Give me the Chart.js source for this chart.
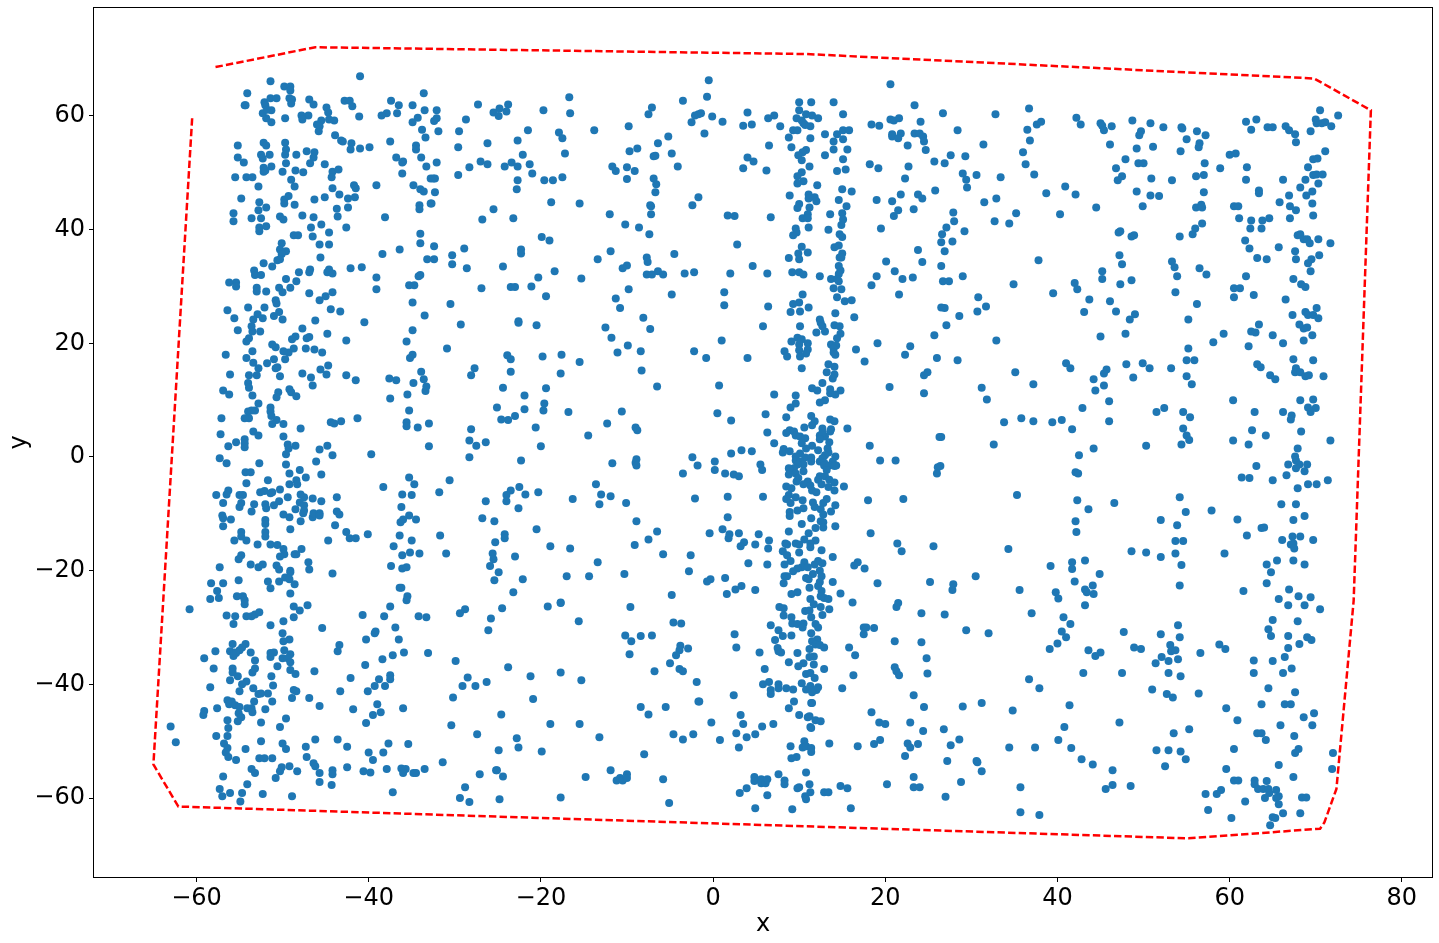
<!DOCTYPE html>
<html><head><meta charset="utf-8">
<script src="https://cdn.jsdelivr.net/npm/chart.js@4"></script>
<style>html,body{margin:0;padding:0;background:#fff;overflow:hidden}canvas{display:block}</style>
</head><body><canvas id="c" width="1439" height="943" style="width:1439px;height:943px"></canvas>
<script>
const xTicks=[-60,-40,-20,0,20,40,60,80];
const yTicks=[-60,-40,-20,0,20,40,60];
const hullLine=[[-60.5,59.6],[-65,-54.1],[-62.1,-61.5],[55.2,-67.1],[70.5,-65.4],[71,-64.3],[72.4,-58.4],[74.4,-25.3],[76.4,61],[69.8,66.6],[10.8,70.9],[-46.2,72.1],[-57.8,68.6]];
const westTop=[[-51.4,66.1],[-49.8,65.2],[-49.1,65.2],[-49.1,64.5],[-54.1,64],[-41,67],[-33.6,64],[-54.4,61.9],[-54.3,61.9],[-52.1,62.4],[-51.4,63.1],[-50.7,63.1],[-49.2,63.1],[-48.9,62.9],[-49,62.2],[-46.9,62.9],[-46.4,62],[-52,61.9],[-44.9,61.5],[-44.7,60.6],[-42.8,62.7],[-42.2,62.7],[-41.9,61.7],[-37.4,62.7],[-36.5,61.9],[-34.9,61.9],[-33.5,61],[-36.7,60.5],[-37.9,60.5],[-38.5,60.1],[-41.1,59.9],[-44,59.2],[-44.6,59.4],[-45.5,59.2],[-46,58.5],[-45.7,58.2],[-45.8,57.3],[-47,60.1],[-47.8,60.1],[-47.7,59.4],[-49.7,59.6],[-51.3,58.9],[-51.9,59.6],[-52.3,60.5],[-51.3,61],[-51.8,61.1],[-34.3,59.7],[-34.9,58.9],[-33.8,57.6],[-33.4,56.2],[-43.9,56.6],[-43.2,55.7],[-43,55.5],[-42,55.2],[-42.1,54.1],[-41,54.3],[-39.9,54.5],[-37.5,55.5],[-34.5,54.8],[-34.5,54.1],[-33.9,52.7],[-33.3,51.1],[-36.8,52.7],[-36,52],[-36.1,51.8],[-36.1,49.9],[-34.8,47.8],[-34,47.1],[-33.6,46.7],[-39.1,47.8],[-32.8,49],[-55.2,54.8],[-55.2,52.7],[-54.5,51.8],[-55.5,49.2],[-54.2,49.2],[-53.5,49.2],[-52.8,47.6],[-52.2,55.3],[-51.9,54.8],[-52.5,53.2],[-52.3,52.5],[-51.5,53.2],[-49.7,55.3],[-49.6,54.1],[-49.7,53.2],[-48.4,53.2],[-47.2,53.8],[-46.3,53.6],[-46.4,52.7],[-46.8,51.7],[-49.6,51.7],[-45.1,51.5],[-51.3,51.1],[-52.2,50.9],[-52.2,50.2],[-52,50.4],[-50,50.2],[-48.5,50.4],[-47.6,50.1],[-49,48.8],[-48.6,47.6],[-44.2,50.2],[-43.5,50.6],[-44.3,49.2],[-44.2,47.3],[-41.7,47.8],[-41.5,47.3],[-43.4,46.2],[-45.1,45.7],[-46.3,45.3],[-42.4,45.5],[-41.6,45.7],[-42.4,43.9],[-43.7,43.7],[-43.6,42.3],[-38.1,42.2],[-34.1,44.3],[-34.1,43.6],[-32.8,44.6],[-54.8,45.5],[-52.7,44.8],[-51.9,43.9],[-52.8,43.4],[-49.8,45.3],[-49.3,45.9],[-49.8,44.6],[-48.6,44.4],[-55.7,42.9],[-55.7,41.5],[-53.6,42],[-52.5,42],[-50.3,42.3],[-49.9,41.8],[-47.7,42.5],[-46.4,42.2],[-52.7,40.4],[-52.7,39.7],[-51.9,40.6],[-46.7,40.4],[-45.5,40.9],[-44.6,39.5],[-42.6,40.4],[-46.5,38.8],[-48.7,39],[-48.2,39],[-45.7,37.4],[-44.6,37.4],[-50.1,37.6],[-50.3,36.5],[-49.6,36.2],[-50.1,35.7],[-50.6,34.6],[-50.3,34.8],[-45.6,35.1],[-52.2,34.1],[-51.2,33.5],[-53.3,32.8],[-53.2,32],[-52.5,32],[-48.1,32.5],[-46.8,33],[-46.9,32.5],[-44.6,33],[-44.8,32.5],[-44.2,32.3],[-42.1,33.2],[-40.8,33.4],[-38.4,35.7],[-36.4,36.5],[-34,39.3],[-34,37.6],[-33.2,34.8],[-34,32],[-34.2,31.8],[-39.1,31.6],[-39.1,29.5],[-35.3,30.2],[-34.7,30.2],[-34.9,27.2],[-56.2,30.7],[-55.4,30.7],[-55.4,30],[-53,29.8],[-53,29.1],[-51.9,29.1],[-49.6,31.3],[-48.4,30.9],[-50.4,29.8],[-50,29],[-49.1,29.8],[-46.9,28.8],[-44.2,29],[-45,28.3],[-45.7,27.6],[-44.4,26],[-43.3,25.6],[-50.8,27.6],[-50.7,27],[-56.4,25.8],[-54,26.3],[-52.1,26.3],[-52.9,25.1],[-55.6,24.4],[-53.4,24.2],[-52.3,24.4],[-51,24.8],[-50.4,25.5],[-50,24.2],[-46.2,24],[-40.5,23.7],[-33.5,24.9]];
const westMid=[[-34.9,22.3],[-35.6,20.3],[-34.9,18],[-35.2,17.4],[-33.9,15],[-33.6,13.7],[-34.8,13],[-33.3,12.4],[-33.4,11.6],[-35.5,11],[-37.5,10.3],[-35.3,8.2],[-35.6,6.1],[-35.6,5.4],[-34.3,5.2],[-33,5.9],[-33,1.9],[-37.6,13.8],[-36.8,13.5],[-41.5,13.5],[-42.6,14.4],[-42.6,20.5],[-44.8,21.7],[-44.9,14.5],[-44.7,16.1],[-45.6,15.4],[-46.7,14],[-46.5,12.6],[-47.7,14.7],[-45.4,18.4],[-46.3,18.9],[-47.3,19.1],[-46.9,21.1],[-47.2,20.9],[-47.7,22.6],[-48.5,21.2],[-48.9,20.7],[-48.7,19.1],[-49.3,18.4],[-49.9,18.6],[-49.7,17.2],[-51,17.2],[-50.8,19.3],[-51.2,19.8],[-51.8,16.5],[-50.6,15.8],[-50.8,15.6],[-50.3,14.2],[-52.6,22.1],[-53.5,22.1],[-53.6,23],[-55.2,22.3],[-53.9,20.9],[-54.2,20.3],[-56.6,18],[-53.5,18.6],[-54.2,17.4],[-53.4,16.6],[-52.8,15.6],[-56.1,14.5],[-53.9,14.4],[-53,14.4],[-54,13],[-53.9,12.2],[-56.9,11.7],[-56.2,11],[-53.5,10.8],[-49.2,11.9],[-49,11.4],[-48.4,10.7],[-50.5,11.4],[-50.7,10.5],[-52.8,9.4],[-53.2,8.2],[-51.4,8.7],[-51.4,8],[-54,8],[-53.6,8.2],[-51.3,7.2],[-53.9,6.8],[-54.4,6.8],[-57.1,6.8],[-50.7,6.5],[-51.2,5.8],[-49.9,5.8],[-47.9,5],[-44.4,6.1],[-44,5.9],[-43.2,6.3],[-41.3,6.8],[-53.4,4.5],[-52.8,3.8],[-57.2,4],[-49.9,3.6],[-54.4,3.1],[-55.4,2.6],[-54.4,2.4],[-54.4,1.7],[-56.3,1.9],[-49.4,2.2],[-48.5,2],[-49.3,1.5],[-45.7,1.3],[-44.8,2],[-49.6,0.5],[-44.2,0.3],[-39.7,0.5],[-57.3,-0.2],[-56.5,-1.1],[-52.7,-1.1],[-49.6,-1.3],[-46.1,-0.8],[-54.3,-2.7],[-53.7,-2.7],[-48,-2.3],[-49.2,-2.9],[-45.5,-3.1],[-47.3,-3.6],[-51.7,-4.1],[-48.4,-4.1],[-54.2,-4.6],[-49.2,-4.8],[-48.3,-4.8],[-35.3,-3.6],[-34.7,-4.8],[-38.3,-5.3],[-56.3,-5.9],[-56.5,-6.6],[-57.7,-6.7],[-55,-6.7],[-54.6,-6.7],[-52.6,-6.2],[-52.1,-6],[-51.2,-6.2],[-51.4,-6.4],[-50.3,-5.7],[-49.4,-7.1],[-47.9,-6.6],[-47.5,-7.1],[-46.5,-7.3],[-43.7,-7.1],[-36.1,-6.6],[-35,-6.7],[-56.9,-8.1],[-55,-8.8],[-54.8,-8.1],[-53.3,-8.3],[-52,-8.3],[-51.9,-9],[-51,-8.5],[-50.4,-7.8],[-48,-8],[-47.5,-8.5],[-45.5,-7.8],[-36.2,-8.8],[-48.5,-9.2],[-47.5,-9.4],[-47.6,-9.9],[-53.6,-9.6],[-49.9,-10.1],[-49.2,-10.6],[-46.5,-10.6],[-46.4,-9.9],[-45.7,-9.9],[-45.7,-10.3],[-43.7,-9.6],[-43.4,-10.1],[-57,-10.3],[-56.9,-10.8],[-56,-11],[-35.3,-10.3],[-36,-11],[-34.5,-11],[-36.3,-11.5],[-52,-11.1],[-52,-11.8],[-47.9,-11.3],[-56.9,-12.2],[-43.9,-12],[-49.1,-12.7],[-54.8,-13.2],[-54.8,-14],[-52,-13.2],[-52,-14],[-42.6,-13.2],[-42.2,-14.3],[-41.5,-14.3],[-40.1,-13.6],[-36.4,-13.8],[-55.6,-14.7],[-54.2,-14.7],[-44.7,-14.7],[-35,-14.7],[-52.9,-15.4],[-51.4,-15.4],[-50.6,-15.5],[-49.9,-16.2],[-47.8,-16.2],[-37.1,-15.7],[-48.6,-17.1],[-49.8,-17.1],[-50.3,-17.5],[-48.4,-17.1],[-35.2,-16.8],[-34.1,-17],[-36.1,-17.3],[-54.8,-17.3],[-55.1,-18],[-47,-18.5],[-53.7,-18.9],[-52.8,-19.4],[-52.3,-18.9],[-50.7,-19.1],[-50.4,-19.8],[-46.9,-19.8],[-57.3,-19.4],[-49.1,-20],[-49.1,-20.3],[-44.2,-20.5],[-37.4,-19.2],[-36.1,-19.6],[-35.6,-19.4],[-55.1,-21.7],[-51.7,-21.9],[-50.4,-21.9],[-49.7,-21.2],[-49.2,-21.5],[-48.6,-22.4],[-58.3,-22.2],[-56.9,-22.2],[-57.6,-23.6],[-51.4,-23.1],[-49.1,-24],[-36.4,-23],[-36.2,-23],[-58.4,-25],[-57.4,-24.8],[-55.3,-24.5],[-54.6,-24.5],[-54.4,-25.2],[-35.5,-24.5],[-35.6,-25.2]];
const westLow=[[-60.8,-26.8],[-56.5,-27.9],[-55.5,-28],[-54.2,-28],[-53.6,-28],[-53.2,-27.7],[-52.7,-27.3],[-54.4,-25.9],[-48.7,-26.3],[-48,-27],[-47.1,-26.1],[-48.7,-28.2],[-49.9,-28.9],[-51.4,-29.6],[-55.7,-29.4],[-45.4,-30.1],[-40.7,-27.8],[-38.2,-28],[-37.5,-26.3],[-34.2,-28],[-33.3,-28.2],[-36.9,-30],[-39.2,-30.7],[-39.3,-31],[-40.3,-32.1],[-36.5,-32.1],[-43.4,-33.1],[-43.6,-34.2],[-35.9,-34.4],[-33.1,-34.5],[-37.2,-34.9],[-38.4,-35.6],[-40.4,-36.6],[-50,-31],[-49.2,-32.1],[-49.9,-32.4],[-55.8,-32.9],[-54.3,-32.9],[-54.7,-33.5],[-55,-34],[-56.1,-34.2],[-55.6,-34.4],[-55.4,-34.5],[-55.7,-35],[-57.8,-34.2],[-59.1,-35.4],[-53.7,-34.4],[-53.2,-35.8],[-51.4,-34.5],[-51,-34.4],[-51.4,-35.2],[-49.8,-34],[-49.1,-34.7],[-50,-35.4],[-49.4,-35.4],[-49.1,-36.1],[-50.6,-36.8],[-58,-37.2],[-53.2,-37.2],[-53.5,-37.9],[-55.8,-37.2],[-55.8,-37.9],[-55.2,-38.6],[-49.1,-37.5],[-48.5,-38.2],[-46.3,-37.7],[-51.3,-38.6],[-56.1,-39.3],[-54.2,-39.5],[-54.7,-40],[-51.1,-40.2],[-42.1,-38.9],[-38.8,-39.1],[-37.5,-38.4],[-37.5,-39.1],[-39.3,-40.3],[-38.1,-40.3],[-58.4,-40.5],[-53.4,-40.7],[-55,-41.2],[-48.7,-41],[-48.4,-41.2],[-43.3,-41.2],[-40.1,-41.2],[-52.8,-41.7],[-52.5,-41.6],[-51.7,-41.6],[-48.9,-42.4],[-46.9,-42.4],[-56.4,-42.8],[-55.9,-43],[-56.2,-43.5],[-53.3,-43],[-51.2,-43],[-55.5,-43.7],[-55,-44],[-54.1,-44.2],[-53.6,-44.2],[-57.6,-44.2],[-52,-44.4],[-45.7,-43.8],[-39,-43.5],[-36,-44.2],[-41.8,-44.4],[-59.1,-44.7],[-59.2,-45.4],[-55.1,-45.1],[-54.8,-45.8],[-53.5,-44.9],[-38.6,-44.9],[-39.5,-45.4],[-49.6,-46],[-56.4,-46.3],[-55.2,-46.5],[-52.5,-46.7],[-40.3,-46.8],[-63,-47.4],[-50.3,-47.5],[-56.3,-47.7],[-57.7,-49.1],[-56.4,-49.1],[-62.4,-50.2],[-52.5,-50],[-56.8,-50.4],[-50,-50.4],[-46.2,-49.7],[-43.6,-49.7],[-37.7,-50.4],[-35.4,-50.5],[-56.4,-51.2],[-54.3,-51.4],[-49.6,-51.4],[-47.3,-51],[-42.5,-51],[-56.6,-52],[-40,-52],[-38.3,-52],[-56.3,-52.8],[-52.7,-53],[-52.1,-53],[-51.2,-53],[-47.2,-52.8],[-55.4,-53.3],[-39.5,-53.3],[-46.4,-53.9],[-46.2,-54.4],[-50.1,-54.6],[-49.2,-54.4],[-42.5,-54.6],[-53.6,-54.9],[-50.3,-55.3],[-48.3,-55.3],[-44.2,-55.1],[-44.2,-55.8],[-45.7,-55.6],[-40.6,-55.3],[-39.8,-55.5],[-37.9,-54.9],[-36.2,-54.8],[-35.7,-54.9],[-36,-55.6],[-34.8,-55.6],[-34.5,-55.6],[-33.5,-54.9],[-53.2,-55.6],[-56.9,-56.2],[-50.8,-56.5],[-45.7,-57.2],[-44.3,-57.7],[-54.1,-57.6],[-57.3,-58.4],[-56.1,-59.1],[-54.7,-59.1],[-52.3,-59.3],[-57,-59.7],[-48.9,-59.7],[-37.2,-59],[-54.9,-60.6]];
const midWestTop=[[-32.1,61],[-27.3,62],[-23.8,62],[-24.8,61.3],[-25.5,60.6],[-24,60.8],[-24.9,60],[-16.7,63.3],[-19.7,61],[-16.6,60.5],[-3.5,62.7],[-7.1,61.5],[-7.5,60.3],[-1.7,60.3],[-2.1,60.1],[-2.5,58.9],[-32.1,59.6],[-32.4,59.1],[-28.7,59.4],[-31.9,57.3],[-29.5,57.3],[-21.5,57.5],[-17.9,57.1],[-17.5,56.1],[-13.8,57.5],[-9.8,58.2],[-5.2,56.4],[-22.7,55.7],[-26.2,55.2],[-29.6,54.5],[-6.4,55.2],[-8.8,54.3],[-9.7,53.8],[-4.8,53.4],[-22.1,53.2],[-17.2,53.4],[-6.9,52.9],[-6.7,53],[-32.1,51.8],[-27,52],[-26.2,51.5],[-23.4,51.8],[-21.3,51.5],[-28.3,51],[-24.2,51.1],[-22.7,51.1],[-11.7,51.1],[-11.3,50.3],[-10,51],[-9.1,50.3],[-4.1,51.1],[-21,49.9],[-29.6,49.6],[-32.5,49],[-32.3,49],[-22.7,48.7],[-19.6,48.7],[-18.6,48.7],[-17.5,49.2],[-10,48.9],[-6.9,49],[-6.6,48],[-22.8,47.1],[-32.3,46.6],[-6.7,46.6],[-32.7,44.6],[-18.8,44.8],[-15.5,44.6],[-1.7,45.7],[-2.4,44.3],[-25.5,43.6],[-26.8,41.8],[-23.2,42],[-12,42.7],[-7.3,44.3],[-7.2,44.1],[-7.2,42.7],[-10.2,40.9],[-8.6,40.4],[-7.4,39.2],[-19.9,38.7],[-19,38.1],[-32.4,37.1],[-28.9,36.7],[-22.3,36.5],[-22.3,35.8],[-30.3,35.5],[-32.4,34.8],[-30.3,33.9],[-28.6,33.2],[-24.4,33.5],[-11.9,36.2],[-13.4,34.8],[-7.7,35.1],[-7.6,34.3],[-4.5,35.7],[-10,33.7],[-10.5,33.2],[-18.4,32.7],[-20.3,31.6],[-7.7,32.1],[-7.1,32.1],[-6.4,32.7],[-5.8,32.1],[-3.3,32.3],[-2.2,32.5],[-15.3,31.4],[-26.9,29.7],[-23.5,29.9],[-23,29.9],[-21.1,30],[-9.8,29.5],[-19.4,28.3],[-4.8,28.6],[-11.3,27.9],[-30.5,26.9],[-10.8,26.2],[-8.1,24.5],[-22.6,23.9]];
const midWestMid=[[-29.3,23.3],[-20.5,23.2],[-22.6,23.6],[-12.5,22.8],[-7.3,22.5],[-11.8,21],[-9.9,19.6],[-30.9,19.1],[-11.1,18.4],[-8.4,18.6],[-2.2,18.6],[-23.9,17.9],[-23.5,17.2],[-19.8,17.7],[-17.6,18],[-15.5,16.7],[-27.7,15.6],[-28.1,14.4],[-23.5,15],[-17.7,14.7],[-8.3,15.2],[-6.5,12.4],[-24.4,12.2],[-19.4,12.1],[-21.9,10.8],[-19.6,9.4],[-25.1,8.7],[-21.9,8.4],[-19.7,8.2],[-16.8,7.9],[-10.6,8],[-23,7.2],[-24.6,6.6],[-23.8,6.5],[-12.3,5.9],[-9,5.2],[-8.8,4.7],[-20.6,5.2],[-28.1,4.9],[-14.5,3.8],[-28.3,2.9],[-26.4,2.6],[-27.5,2],[-20,1.9],[-28.3,-0.05],[-22.3,-0.6],[-11.7,-1.1],[-8.9,-0.4],[-9,-1],[-8.9,-1.5],[-2.4,-0.05],[-1.8,-1.5],[-3.5,-2.9],[-30.6,-4.1],[-31.8,-6.2],[-23.5,-5.9],[-22.5,-5.3],[-24,-6.7],[-21.8,-6.6],[-20.3,-6.2],[-24,-7.8],[-26.4,-7.8],[-16.3,-7.4],[-13.6,-4.8],[-13,-6.6],[-11.9,-6.9],[-13.2,-8.3],[-10.1,-8.1],[-2.1,-7.3],[-22.6,-9],[-26.8,-10.8],[-25.4,-11.3],[-8.9,-11.3],[-20.5,-12.7],[-6.5,-13.1],[-31.7,-13.8],[-24.2,-13.6],[-24.2,-14.3],[-7.5,-14.5],[-25.3,-15],[-18.9,-15.7],[-16.6,-16.1],[-9.1,-15.5],[-31,-17],[-25.6,-17],[-25.5,-18],[-23,-17.5],[-5.8,-17.1],[-2.6,-17.3],[-13.4,-18.5],[-25.9,-19.2],[-24.9,-20.3],[-2.8,-20.1],[-17,-21],[-14.4,-21],[-10.3,-20.6],[-25.4,-21.7],[-22.1,-21.5],[-23.2,-23.8],[-4.8,-24.3],[-17.7,-25.6]];
const midWestLow=[[-28.8,-26.8],[-29.4,-27.5],[-24.5,-26.6],[-25.8,-28.4],[-26.1,-30.5],[-19.2,-26.3],[-17.7,-25.7],[-9.6,-26.4],[-15.6,-28.9],[-4.6,-29.1],[-3.7,-29.3],[-10.2,-31.4],[-9.5,-32.4],[-8.4,-31.5],[-7.1,-31.4],[-3.8,-33.2],[-2.9,-33.7],[-3.9,-34],[-4.3,-34.9],[-9.7,-34.7],[-29.9,-35.9],[-5,-36.3],[-23.8,-37],[-3.9,-37.3],[-3.5,-37.7],[-21.2,-38.6],[-17.7,-37.9],[-6.8,-37.7],[-28.5,-38.8],[-15.3,-39.3],[-29.1,-40.3],[-27.6,-40.3],[-26.3,-39.6],[-1.9,-39.6],[-30.2,-42.3],[-20.9,-42.6],[-1.7,-43],[-8.4,-44],[-5.5,-44],[-7.5,-45.3],[-24.6,-45.3],[-30.4,-47.2],[-18.9,-47],[-15.5,-47],[-27.4,-48.8],[-4.6,-48.8],[-3.5,-49.7],[-2.3,-48.8],[-13.2,-49.3],[-22.8,-49.5],[-22.6,-51.1],[-24.9,-51.6],[-19.9,-51.8],[-8,-52.3],[-31.4,-53.7],[-25.2,-55.1],[-25.1,-55.1],[-27.1,-55.8],[-24.4,-56.2],[-11.9,-55.1],[-10,-55.8],[-14.8,-56.3],[-5.8,-56.7],[-28.8,-58.1],[-11.2,-56.9],[-10.8,-56.5],[-10.5,-56.9],[-10,-56.5],[-29.4,-60],[-28.3,-60.7],[-24.8,-60.2],[-17.7,-59.9],[-5.1,-60.9]];
const centreTop=[[-0.5,66.3],[-0.7,63.4],[20.6,65.6],[10,62.4],[11.4,62.4],[14,62.4],[23.4,61.9],[10,61],[10.8,60.3],[11.5,60.1],[12.2,59.6],[15.1,60.3],[4,60.6],[7.1,60.1],[6.4,59.6],[-1.4,60.5],[-0.1,59.9],[1.1,59],[3.5,58.3],[4.5,58.5],[7.8,58.2],[9.7,59.6],[10.3,59.2],[10.5,58.7],[11.3,58.2],[10.7,58.4],[20.6,59.4],[21,59.2],[21.6,59.6],[24.1,59],[18.4,58.5],[19.3,58.3],[9.3,57.5],[9.8,57.5],[15.1,57.5],[15.8,57.5],[-1,56.9],[13,56.8],[14.4,56.8],[20.8,56.8],[21.8,56.9],[23.4,56.9],[24,56.9],[24.4,56.4],[8.8,56.2],[11.3,56.1],[15.1,55.9],[14,55.5],[20.8,56.4],[21.5,56.1],[24.5,55.5],[6.5,54.8],[22.6,54.8],[9.1,54.5],[14,54.1],[15.6,54.1],[10.8,54],[24.7,54],[10.4,53.6],[9.9,53.1],[13,53.1],[4,52.7],[4.7,52],[10.3,52.2],[15.1,52.4],[25.7,52],[18.2,51.5],[22.7,51.1],[11.2,51.1],[3.5,50.8],[6.2,50.4],[19.2,50.8],[14.4,50.3],[15.4,50.6],[10.3,50.1],[9.8,49.4],[22.3,49],[10.5,48.5],[9.8,48.1],[12.1,47.8],[15,47.1],[16.1,46.7],[25.8,46.9],[8.9,46],[11.1,46.2],[21.8,46.2],[23.8,46.2],[24.3,45.5],[11.1,45.5],[11.8,45.7],[12,45],[14.6,45.2],[19,45.2],[20.8,45],[10,44.5],[9.8,43.8],[11.2,43.9],[15.5,44.1],[21.5,43.4],[23.3,43.6],[1.7,42.5],[2.5,42.4],[6.7,42.2],[13.6,42.7],[15,42.9],[11,42.7],[21,42.4],[10.4,42],[11,42],[15.1,41.8],[14.9,40.8],[11.1,40.4],[13.4,40],[19.5,40.2],[9.6,40.2],[9.7,39.5],[9.3,39],[14.7,39.2],[15,38.7],[2.8,37.4],[10.3,37],[14.6,37.2],[14.1,36.9],[23.8,36.4],[11,36],[9.9,35.8],[15,35.8],[8.8,35],[10,34.8],[14.7,35.1],[14.9,35.1],[20.1,34.4],[24.3,34.3],[4.6,33.6],[14.6,33.6],[14.8,32.8],[2,32.3],[6.3,32.3],[9.2,32.5],[10,32.5],[10.5,32.1],[12.4,31.8],[21.1,32.7],[19,31.8],[23.2,31.6],[22,31.3],[13.7,31.3],[14.6,32.2],[14.4,31.3],[14.6,30.9],[18.4,30.2],[14,29.7],[14.9,29.5],[1.3,29],[10.4,28.6],[21.6,28.6],[14.4,28.1],[16.1,27.6],[15.3,27.4],[10,27.2],[9.3,26.9],[1.3,26.7],[6.4,26.5],[11.1,26.3],[10.1,25.6],[9,25.5],[14.2,25.3],[16.4,24.6],[12.4,24.2]];
const centreMid=[[5.8,23],[10.1,23],[12.5,23.6],[12.7,23],[14.1,23.2],[14.7,23],[14.8,21.7],[12,21.9],[13,22.1],[1,20.5],[9.8,21],[10.3,20.7],[9.1,20.3],[10,19.8],[11,20],[14.4,20.9],[13.7,19.8],[14.3,19.6],[14,19.1],[25.7,21.4],[19.1,20],[22.9,19.5],[16.6,18.9],[22.3,18],[26,17.4],[8.3,18.6],[10,18.8],[11,18.9],[10.8,18.2],[8.6,17.7],[10.1,17.7],[14,18.4],[14.2,18],[-0.8,17.4],[4,17.4],[17.6,16.8],[13.4,16.3],[14.1,15.9],[10.3,15.6],[13.2,14.9],[14.1,14.5],[24.9,14.9],[24.5,14.4],[13.9,13.8],[12.7,13],[0.7,12.6],[20.5,12.3],[11.5,12.1],[12.1,11.7],[13.6,11.9],[14.8,11.7],[13.6,11.2],[14.2,11],[7.1,11],[9.6,10.8],[24.5,11.2],[13,10],[12.4,9.6],[9.6,9.4],[9,8.7],[0.5,7.7],[6.1,7.5],[11.4,7.2],[8.5,7],[2.1,6.4],[13.6,6.6],[14.1,6.3],[11.8,6.3],[11.5,5.6],[10.6,5.2],[15.6,5],[12.7,5],[13.7,4.9],[8.9,4.7],[13.6,4.5],[6.3,4.3],[8.5,4.2],[9.4,4.5],[9.6,3.8],[10.1,3.6],[12.4,3.8],[13,3.6],[12.7,4.2],[12.4,3.1],[10.7,3.3],[10.3,2.4],[13.5,2.6],[7.1,2.4],[11.5,2],[10.8,1.5],[18.2,2],[26.3,3.5],[13.3,1.5],[8.2,1.4],[8.1,0.8],[8.9,1],[12.2,1.2],[3.3,1.2],[4.5,1],[2.1,0.6],[10.1,0.6],[13.4,0.8],[13,0.3],[9.6,0.1],[10.7,-0.1],[14.2,0.1],[11.4,-0.1],[12.7,-0.2],[0.2,-0.8],[19.4,-0.6],[21.2,-0.6],[9.6,-0.6],[10.1,-0.8],[12.4,-0.8],[11.4,-0.8],[13.9,-0.8],[12.9,-1],[5.5,-1.3],[10.5,-1.3],[9.8,-1.3],[12.9,-1.5],[14.3,-1.5],[13.5,-1.5],[9.4,-2],[8.8,-2],[8.9,-2.3],[5.7,-2.3],[0.2,-2.3],[10.5,-2.5],[13.2,-2.3],[14.1,-1.6],[26.1,-1.8],[26,-2.9],[1.4,-2.9],[2.4,-3.1],[3,-3.4],[8.8,-3.1],[9.6,-2.9],[12.4,-3.4],[13,-3.4],[9.9,-3.7],[12.2,-4],[13.5,-4],[9.7,-4.3],[11,-4.3],[14.1,-4.5],[10.5,-4.8],[11.3,-5],[12.6,-4.8],[15.2,-5.2],[8.5,-5.2],[9.1,-5.5],[13.4,-5.3],[14.1,-5.9],[11.5,-5.9],[12,-6.2],[1.7,-7],[5.8,-7],[8.8,-6.7],[9.6,-7.1],[8.5,-7.4],[10.4,-7.6],[13.2,-7.4],[18,-7.6],[22.1,-7.4],[9,-8.1],[11.6,-8],[12.8,-8.1],[14.2,-8.5],[11.8,-8.8],[10.5,-9],[9.8,-9.4],[12.5,-9.2],[13.7,-9.6],[8.9,-9.7],[8.9,-10.4],[12.8,-10.1],[11.4,-10.8],[1.7,-10.6],[12.5,-11.3],[12.8,-11.5],[10.3,-11.8],[14.2,-12.2],[11.9,-12.5],[12.8,-12.4],[1.1,-12.7],[8.8,-13.1],[-0.4,-13.4],[3,-13.4],[1.9,-13.6],[5.3,-13.6],[11.1,-13.4],[18.3,-13.4],[1.8,-14.3],[6.5,-14.7],[11.9,-14.7],[10.6,-14.5],[3.6,-15],[21.4,-15.2],[4.9,-15.4],[8.4,-15.2],[8.6,-15.4],[9.6,-15.2],[10,-15.4],[11.3,-15.2],[25.6,-15.7],[3.2,-15.7],[6.4,-16.1],[11.3,-15.9],[8.1,-16.6],[10,-16.8],[12.6,-16.4],[21.9,-16.6],[8.6,-17.3],[13.9,-17.6],[9,-18.3],[10.6,-18.5],[12.2,-18.3],[12.7,-18.7],[11.8,-18.9],[4.1,-18.7],[6.3,-18.9],[8.3,-18.9],[16.8,-18.5],[16.4,-19.1],[17.6,-19.6],[10.3,-19.4],[11,-19.4],[9.8,-19.6],[9.3,-20.1],[12.4,-20],[11.6,-20.6],[8.3,-21],[8.6,-21],[12.6,-21],[10.8,-21.3],[1.4,-21.3],[-0.3,-21.5],[-0.7,-21.9],[11.1,-21.5],[8.2,-22.2],[12.4,-22],[13.9,-22],[19.1,-22.2],[25.2,-22],[12.2,-22.7],[3.3,-22.7],[2.6,-23.3],[11.2,-23],[4.9,-23.4],[12.6,-23.6],[1.6,-24.1],[9.1,-24.1],[9.8,-23.8],[14.8,-24],[12.5,-24.5],[11.3,-25],[12.9,-24.8],[13.4,-25]];
const centreLow=[[7.7,-26.4],[8.2,-26.6],[8.2,-27.9],[10.7,-27.1],[11.2,-27],[11.4,-28.2],[12.7,-27.8],[13.5,-26.8],[11.7,-25.9],[12.5,-26.4],[16.2,-25.6],[21.3,-26.4],[21.5,-25.7],[24.2,-27.5],[9.1,-28.2],[6.7,-29.6],[9.2,-29.3],[9.8,-29.4],[10.5,-29.3],[10.4,-30],[11.9,-29.4],[12.2,-30],[7.6,-30.5],[11.4,-31],[17.5,-30],[17.8,-30],[18.7,-30.1],[17.5,-31.2],[2.5,-31.2],[8.1,-31.5],[9.1,-31.4],[7.2,-32.2],[12.1,-32.1],[11.5,-32.4],[21.1,-32.4],[24.2,-32.6],[2.7,-33.5],[7.5,-33.6],[11.9,-33],[12.4,-33.1],[12.9,-33.5],[15.8,-33.5],[11.2,-33.8],[5.4,-34.4],[7.6,-34.2],[7.9,-34.4],[9.8,-34.5],[16.5,-34.9],[11.7,-35.1],[11.2,-35.2],[24.8,-35.4],[8.8,-36.1],[10.5,-36.3],[9.9,-36.8],[11.7,-36.5],[6,-37.3],[12.9,-37.3],[21.1,-37],[21.3,-37.7],[21.6,-38.4],[24.9,-38.1],[10.8,-38.2],[11.3,-38],[16.3,-38.4],[11.8,-38.9],[6.5,-39.6],[5.8,-40],[7.6,-40],[10.3,-39.8],[7.6,-40.7],[8.5,-40.7],[9.3,-40.9],[6.7,-41],[6.7,-41.7],[10.8,-40.9],[11.3,-40.3],[11.5,-41],[12.2,-40.5],[12,-41],[11.5,-41.4],[15,-40.7],[2.4,-41.9],[23.3,-41.9],[-1.6,-43],[9.4,-43],[11.4,-43.3],[11.5,-43.3],[8.8,-44.2],[24.5,-44],[18.4,-44.9],[3.2,-45.4],[10,-45.4],[11,-45.8],[11.2,-45.6],[11.9,-46.3],[12.5,-46.5],[-0.2,-46.7],[19.3,-46.7],[20,-47],[22.9,-46.7],[3.5,-47],[5.7,-47.4],[7,-47],[11.3,-47.5],[11.4,-47.7],[24.4,-48.2],[2.7,-48.6],[4.9,-48.8],[3.9,-49.3],[0.8,-49.8],[10.6,-50],[13.5,-50.4],[19.4,-49.8],[18.7,-50.5],[16.8,-50.9],[22.6,-50.4],[22.9,-51.1],[23.8,-50.5],[3,-51.1],[9,-50.9],[10.4,-51.1],[10.8,-50.9],[11.4,-51.2],[11.4,-51.9],[22.3,-52.6],[9.7,-52.8],[9.1,-53],[7.6,-55.8],[10.8,-55.5],[4.8,-56.3],[4.8,-57],[5.6,-56.7],[5.6,-57.4],[6.1,-57.4],[6.3,-56.7],[8.3,-56.9],[8.3,-57.6],[11.2,-57.6],[23.3,-56.3],[20.2,-57.6],[23.3,-58.1],[24,-58.1],[14.8,-57.9],[15.6,-58.3],[10,-58.1],[9.8,-58.3],[3.9,-58.3],[3.1,-59.1],[6.3,-59.5],[11.3,-59],[10.7,-59.7],[10.8,-60.2],[12.9,-59],[13.4,-59],[4.9,-61.8],[9.2,-62],[16,-61.8]];
const eastTop=[[26.7,60.5],[32.8,60.3],[36.7,61.3],[28.4,57.5],[36.5,57.6],[37.6,58.5],[38.1,59],[42.2,59.7],[42.7,58.5],[45,58.7],[45.2,58.3],[45.4,57.5],[46.3,58.2],[48.7,59.2],[50.8,58.7],[49.7,57.3],[49.5,56.6],[52.3,58],[54.4,58],[54.5,57.8],[56.2,57.3],[57.2,56.6],[55,55.9],[61.9,59],[63.1,59.4],[62.5,57.6],[64.4,58],[65,58],[66.5,58.2],[66.9,57.5],[67.6,56.8],[67.7,55.4],[69.4,57.3],[70,59.4],[70.5,61],[70.1,58.7],[70.7,58.7],[71.1,58.9],[71.8,58.2],[72.6,60.1],[31.4,55],[36.8,55.7],[46.1,55],[49.2,54.3],[51.1,54.6],[56.5,55.2],[56.4,54.5],[54.3,53.8],[36,53.6],[27.6,53.1],[29.3,52.9],[47.9,52.4],[49.4,51.7],[50,51.7],[60,53.2],[60.7,53.4],[71.1,53.8],[69.7,52.4],[70.2,52.5],[26.9,51.7],[36.3,51.5],[57.1,51.7],[46.8,50.8],[58.9,50.8],[62,51],[69.1,51],[29,49.9],[30.6,49.6],[33.4,49.2],[37.3,49.7],[29.4,48.8],[47.5,49.4],[47,48.7],[50.9,49],[53.3,48.7],[56.1,49.4],[57,49.6],[61.9,48.8],[66.2,48.8],[68.8,48.8],[69.7,49.6],[70.1,49.7],[70.8,49.7],[70.3,48.1],[29.5,47.4],[40.9,47.6],[68.2,47.4],[38.7,46.4],[42.1,46.2],[49.2,46.7],[57,46.6],[63.4,46.9],[63.4,46.4],[50.8,46],[51.8,45.9],[66.9,46],[68.9,46],[69.6,46.7],[32.9,45.5],[31.5,44.8],[65.8,44.8],[69.6,44.6],[44.5,43.9],[49.9,44.1],[56.1,43.9],[56.7,44.4],[56.8,43.9],[60.5,44.1],[61,44.1],[67,44.1],[67.7,43.4],[27.9,43],[35.2,42.9],[40.3,42.7],[69.7,42.5],[28,41.5],[32.7,41.5],[34.4,41.1],[61.1,42],[62.5,41.6],[63.8,41.6],[64.6,42],[67,42],[56.8,41.1],[27.1,40.4],[29.2,39.7],[56,40.2],[62.4,40.2],[63.7,40.2],[26.6,39.2],[47.3,39.7],[47.1,39.5],[48.6,38.8],[48.9,39],[54.2,38.8],[55.7,39.2],[67.9,39],[68.2,39.2],[68.6,38.3],[69,38.3],[69.3,37.6],[70.3,38.3],[71.7,37.6],[26.5,37.8],[27.8,37.9],[61.8,38.1],[62.3,36.7],[65.7,36.9],[26.9,36.2],[67.6,36.2],[47.2,35.5],[70.4,35.5],[37.8,34.6],[53.3,34.4],[63.2,35],[64.3,34.8],[67.7,34.8],[69.5,34.8],[69.1,34.1],[47.5,33.9],[26.5,33.6],[53.6,33.4],[56.5,33.2],[45.2,32.7],[57.3,32.1],[69.4,32.7],[29,31.8],[53.9,31.8],[61.9,31.8],[26.7,30.9],[27.4,30.9],[45.2,31.3],[48.6,31.1],[67.4,31.3],[42,30.6],[47.3,30.4],[34.9,30.4],[68.3,30.4],[68.8,29.9],[42.3,29.5],[60.5,29.7],[61.2,29.7],[39.5,28.8],[53.7,29],[30.8,28.1],[43.7,27.7],[60.5,28.1],[62.8,28.5],[66.5,27.7],[46.1,27.4],[31.7,26.5],[56.2,26.9],[26.5,26.3],[26.9,26.2],[30.7,25.6],[46.8,25.6],[43.1,25.5],[49,25.1],[70.1,26.2],[68.8,25.5],[69.1,25],[28.6,24.8],[67.3,25],[69.7,25],[48.4,24.2],[55.2,24.2],[70.3,24.4]];
const eastMid=[[27.1,23.2],[32.9,20.5],[45,21.2],[47.9,21.7],[59.3,21.7],[62.5,22.1],[63,21.9],[65,21.4],[66.2,20],[69.6,21.4],[68.6,20.5],[69,22.8],[68.6,22.6],[68.1,23.3],[63.4,23.3],[58.1,20.2],[62.2,19.5],[55.2,19.1],[28.4,17],[55,17],[55.9,17],[67.4,17.2],[69.7,17],[41,16.5],[41.5,15.6],[48,16.3],[49.9,16.5],[50.7,15.6],[53.2,15.6],[35.1,14.9],[45.7,15.4],[45.4,14.7],[63.2,16.3],[63.6,15.8],[67.7,15.6],[67.6,14.9],[68.2,14.9],[68.8,14.2],[69.2,14.4],[70.9,14.2],[64.7,14.4],[65.3,13.7],[44.2,13.7],[48.8,14],[55,14.2],[37.2,12.8],[55.6,12.8],[45.4,12.6],[31.2,12.2],[44.4,11.7],[31.8,10.1],[46,9.8],[60.4,10],[68.2,10],[69.7,10.1],[42.9,8.6],[69.1,8.7],[70,8.6],[69.4,7.9],[51.5,7.9],[52.4,8.6],[54.6,7.9],[62.9,7.9],[66.2,7.9],[67.2,7.3],[67.1,6.6],[55.4,7],[33.8,6.1],[35.8,6.8],[37.2,6.3],[39.4,6.1],[40.5,6.5],[46,6.3],[41.7,4.9],[54.6,5],[62.6,4.7],[68.3,4.5],[26.5,3.5],[55,3.8],[64.2,3.8],[55.3,3],[60.4,2.9],[71.7,2.9],[32.6,2.2],[50.3,2],[54.4,2.2],[62.2,2.2],[44.2,1.5],[67.9,1.5],[42.5,0.3],[67.6,0.1],[67.7,-0.6],[66.8,-1.3],[68.1,-1.3],[69,-1.3],[63.1,-1.6],[67.7,-2],[68.7,-2.5],[26.4,-1.6],[42.1,-2.7],[42.4,-2.9],[66.6,-3.2],[61.4,-3.6],[62.3,-3.7],[65,-4.1],[71.4,-4.1],[69.1,-4.8],[70.1,-4.8],[67.9,-5.5],[35.3,-6.7],[54.2,-7.1],[42.3,-7.6],[46.6,-8.1],[66,-8.3],[67.7,-8.3],[43.6,-9.2],[54.9,-9.7],[57.9,-9.4],[68.7,-10.4],[42.1,-11.3],[52,-11.1],[60.9,-11],[67.4,-11.1],[53.9,-12],[63.7,-12.5],[64,-12.4],[42.2,-13.2],[62,-13.8],[67.3,-14],[68.2,-14],[53.7,-14.8],[54.6,-14.8],[66.1,-14.6],[69.7,-14.6],[67.1,-15.4],[67.4,-15.2],[67.5,-16.1],[34.3,-16.2],[48.6,-16.6],[50.3,-16.8],[53.7,-17],[59.4,-17],[52,-17.6],[43.2,-18.2],[41.7,-18.5],[65.5,-18.2],[67.4,-18.2],[39.2,-19.2],[54.4,-19],[64.3,-18.9],[68.7,-18.9],[41.7,-19.7],[64.8,-20.3],[44.9,-20.6],[30.5,-21],[42,-21.9],[27.9,-22.4],[64.3,-22.2],[44.1,-22.6],[54.2,-22.6],[27.8,-23.4],[35.6,-23.4],[43.2,-23.3],[43.4,-23.8],[39.8,-23.8],[61.6,-23.6],[66.9,-23.3],[44.2,-24.1],[68,-24.5],[69.4,-24.7],[40.1,-24.9],[65.7,-25]];
const eastLow=[[26.9,-27.7],[37,-27.5],[43.2,-26.1],[40.7,-28.2],[41.5,-29.4],[29.4,-30.5],[32,-31],[40.5,-30.7],[41,-31.7],[40,-32.8],[39.1,-33.8],[47.7,-30.8],[54,-29.6],[52,-31.2],[54.2,-31.7],[66.8,-26.1],[68.7,-26.1],[70.5,-26.8],[65,-28.7],[67.9,-28.9],[64.5,-30.3],[64.8,-31.5],[66.8,-31.5],[69,-31.7],[69.5,-32.2],[68.1,-32.9],[66.8,-33.6],[53.1,-33.1],[48.9,-33.5],[49.7,-33.8],[58.8,-33],[59.5,-33.8],[43.6,-34],[45,-34.4],[44.4,-35],[53.2,-34.2],[53.7,-34],[56.6,-34.5],[52.1,-35.2],[52.9,-35.9],[54,-35.6],[51.4,-36.3],[66.4,-35.2],[62.8,-35.8],[65,-35.9],[67.2,-37.2],[43,-38],[47.5,-38],[52.9,-38],[54.3,-38.6],[62.8,-38],[66.2,-38],[36.7,-39.1],[37.9,-40.7],[51,-40.9],[64.5,-40.7],[52.7,-41.7],[53.4,-42.3],[56.4,-41.6],[67.6,-41.4],[29,-43.9],[31.2,-43.3],[41.4,-43.7],[63.7,-43.5],[66.4,-43.5],[67.1,-43.5],[34.8,-44.6],[59.6,-44.2],[69.8,-45.1],[68.6,-45.8],[60.9,-46.3],[47.2,-46.7],[40.8,-47.5],[65.9,-47.2],[69.6,-47.2],[26.8,-47.9],[55.3,-47.9],[53.5,-48.6],[63.2,-48.6],[63.7,-48.6],[67.5,-49.1],[28.6,-49.7],[40.1,-49.8],[64.2,-49.8],[27.6,-50.7],[34.4,-51.1],[37.4,-51.1],[41.6,-51.2],[60.5,-51.4],[51.5,-51.6],[52.9,-51.6],[54.3,-51.8],[68,-51.4],[67.6,-52.1],[42.8,-53.2],[54.9,-53.2],[27.2,-53.5],[30.6,-53.5],[30.7,-53.7],[44.1,-54.1],[52.5,-54.4],[65.7,-54.2],[31.2,-55.3],[46.4,-55.1],[59.6,-54.9],[72,-52.1],[71.9,-54.9],[67.4,-56.3],[28.8,-57.2],[46.4,-57.7],[48.5,-57.9],[35.7,-58.1],[45.6,-58.4],[60.5,-56.9],[61,-56.9],[62.9,-56.9],[62.9,-57.6],[64.3,-57],[63.3,-58.4],[63.9,-58.4],[64.5,-58.4],[65.4,-58.6],[59,-58.6],[57.2,-59.3],[58.5,-59.3],[27,-59.8],[64.6,-59.1],[65.7,-59.7],[65.4,-60],[64.1,-60],[68.4,-59.9],[68.9,-59.9],[61.8,-60.6],[65.7,-61.1],[57.5,-62.1],[35.7,-62.5],[37.9,-63],[66.2,-62.7],[68.2,-62.7],[60.2,-63.5],[65,-63.4],[65.3,-63.5],[64.7,-64.8]];

const allBands=[westTop,westMid,westLow,midWestTop,midWestMid,midWestLow,centreTop,centreMid,centreLow,eastTop,eastMid,eastLow];
const toXY=a=>a.map(p=>({x:p[0],y:p[1]}));
const minus=v=>String(v).replace('-','\u2212');
const font={family:'"DejaVu Sans"',size:24};
const frame={id:'frame',afterDatasetsDraw(c){const a=c.chartArea,g=c.ctx;g.save();g.strokeStyle='#000';g.lineWidth=1;g.strokeRect(a.left-.5,a.top-.5,a.right-a.left+1,a.bottom-a.top+1);g.restore();}};
Chart.defaults.animation=false;
new Chart(document.getElementById('c'),{type:'scatter',plugins:[frame],
data:{datasets:[
 {data:toXY(allBands.flat()),backgroundColor:'#1f77b4',borderWidth:0,pointRadius:4,pointHoverRadius:4},
 {data:toXY(hullLine),showLine:true,borderColor:'#ff0000',borderWidth:2.5,borderDash:[7.4,3.2],pointRadius:0,fill:false,tension:0}
]},
options:{responsive:false,devicePixelRatio:1,events:[],layout:{padding:{top:8,right:7,left:0,bottom:0}},
 plugins:{legend:{display:false},tooltip:{enabled:false}},
 scales:{
  x:{type:'linear',min:-71.9,max:83.5,afterBuildTicks:s=>{s.ticks=xTicks.map(v=>({value:v}));},afterFit:s=>{s.height=66;s.paddingLeft=0;s.paddingRight=0;},
     grid:{drawOnChartArea:false,drawTicks:true,tickLength:5,tickColor:'#000'},border:{display:false},
     ticks:{autoSkip:false,maxRotation:0,font,color:'#000',padding:2,callback:minus},
     title:{display:true,text:'x',font,color:'#000',padding:{top:0,bottom:4}}},
  y:{type:'linear',min:-73.9,max:79,afterBuildTicks:s=>{s.ticks=yTicks.map(v=>({value:v}));},afterFit:s=>{s.width=94;s.paddingTop=0;s.paddingBottom=0;},
     grid:{drawOnChartArea:false,drawTicks:true,tickLength:5,tickColor:'#000'},border:{display:false},
     ticks:{autoSkip:false,font,color:'#000',padding:4,callback:minus},
     title:{display:true,text:'y',font,color:'#000',padding:{top:5,bottom:0}}}
 }}});
</script>
</body></html>
